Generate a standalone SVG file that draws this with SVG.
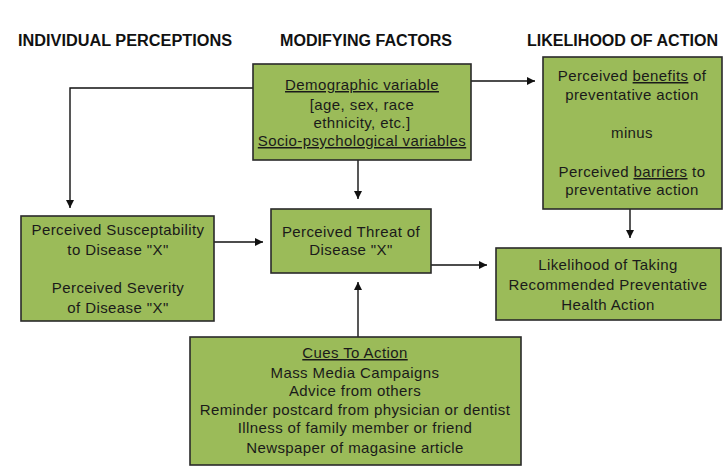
<svg xmlns="http://www.w3.org/2000/svg" width="728" height="476" viewBox="0 0 728 476">
<style>
.hdr{font-family:"Liberation Sans",Arial,sans-serif;font-weight:bold;font-size:16px;fill:#111}
.box{fill:#9bbb59;stroke:#2a2a2a;stroke-width:1.6}
.t{font-family:"Liberation Sans",Arial,sans-serif;font-size:15px;letter-spacing:0.4px;fill:#1a1a1a;text-anchor:middle}
.u{text-decoration:underline}
.ln{fill:none;stroke:#111;stroke-width:1.4}
</style>
<defs>
<marker id="ah" viewBox="0 0 10 10" refX="10" refY="5" markerWidth="8" markerHeight="8" markerUnits="userSpaceOnUse" orient="auto">
<path d="M0,0 L10,5 L0,10 z" fill="#111"/>
</marker>
</defs>
<rect width="728" height="476" fill="#fff"/>
<g id="headers">
<text class="hdr" x="18" y="46" textLength="214" lengthAdjust="spacingAndGlyphs">INDIVIDUAL PERCEPTIONS</text>
<text class="hdr" x="280" y="46" textLength="172" lengthAdjust="spacingAndGlyphs">MODIFYING FACTORS</text>
<text class="hdr" x="527" y="46" textLength="191" lengthAdjust="spacingAndGlyphs">LIKELIHOOD OF ACTION</text>
</g>
<g id="connectors">
<polyline class="ln" points="253,88 70,88 70,208" marker-end="url(#ah)"/>
<line class="ln" x1="471" y1="81" x2="535" y2="81" marker-end="url(#ah)"/>
<line class="ln" x1="358" y1="160" x2="358" y2="199" marker-end="url(#ah)"/>
<line class="ln" x1="214" y1="242" x2="263" y2="242" marker-end="url(#ah)"/>
<line class="ln" x1="431" y1="265" x2="487" y2="265" marker-end="url(#ah)"/>
<line class="ln" x1="630" y1="209" x2="630" y2="238" marker-end="url(#ah)"/>
<line class="ln" x1="358" y1="337" x2="358" y2="282" marker-end="url(#ah)"/>
</g>
<g id="demographic">
<rect class="box" x="253" y="64" width="218" height="96"/>
<text class="t" x="362" y="90"><tspan class="u">Demographic variable</tspan></text>
<text class="t" x="362" y="110">[age, sex, race</text>
<text class="t" x="362" y="128">ethnicity, etc.]</text>
<text class="t" x="362" y="146"><tspan class="u">Socio-psychological variables</tspan></text>
</g>
<g id="benefits">
<rect class="box" x="543" y="57" width="179" height="152"/>
<text class="t" x="632" y="81">Perceived <tspan class="u">benefits</tspan> of</text>
<text class="t" x="632" y="100">preventative action</text>
<text class="t" x="632" y="138">minus</text>
<text class="t" x="632" y="177">Perceived <tspan class="u">barriers</tspan> to</text>
<text class="t" x="632" y="195">preventative action</text>
</g>
<g id="susceptibility">
<rect class="box" x="21" y="216" width="193" height="105"/>
<text class="t" x="118" y="235">Perceived Susceptability</text>
<text class="t" x="118" y="255">to Disease "X"</text>
<text class="t" x="118" y="293">Perceived Severity</text>
<text class="t" x="118" y="313">of Disease "X"</text>
</g>
<g id="threat">
<rect class="box" x="271" y="209" width="160" height="64"/>
<text class="t" x="351" y="237">Perceived Threat of</text>
<text class="t" x="351" y="255">Disease "X"</text>
</g>
<g id="likelihood">
<rect class="box" x="496" y="248" width="225" height="72"/>
<text class="t" x="608" y="270">Likelihood of Taking</text>
<text class="t" x="608" y="290">Recommended Preventative</text>
<text class="t" x="608" y="310">Health Action</text>
</g>
<g id="cues">
<rect class="box" x="190" y="337" width="331" height="128"/>
<text class="t" x="355" y="358"><tspan class="u">Cues To Action</tspan></text>
<text class="t" x="355" y="378">Mass Media Campaigns</text>
<text class="t" x="355" y="396">Advice from others</text>
<text class="t" x="355" y="415">Reminder postcard from physician or dentist</text>
<text class="t" x="355" y="433">Illness of family member or friend</text>
<text class="t" x="355" y="453">Newspaper of magasine article</text>
</g>
</svg>
